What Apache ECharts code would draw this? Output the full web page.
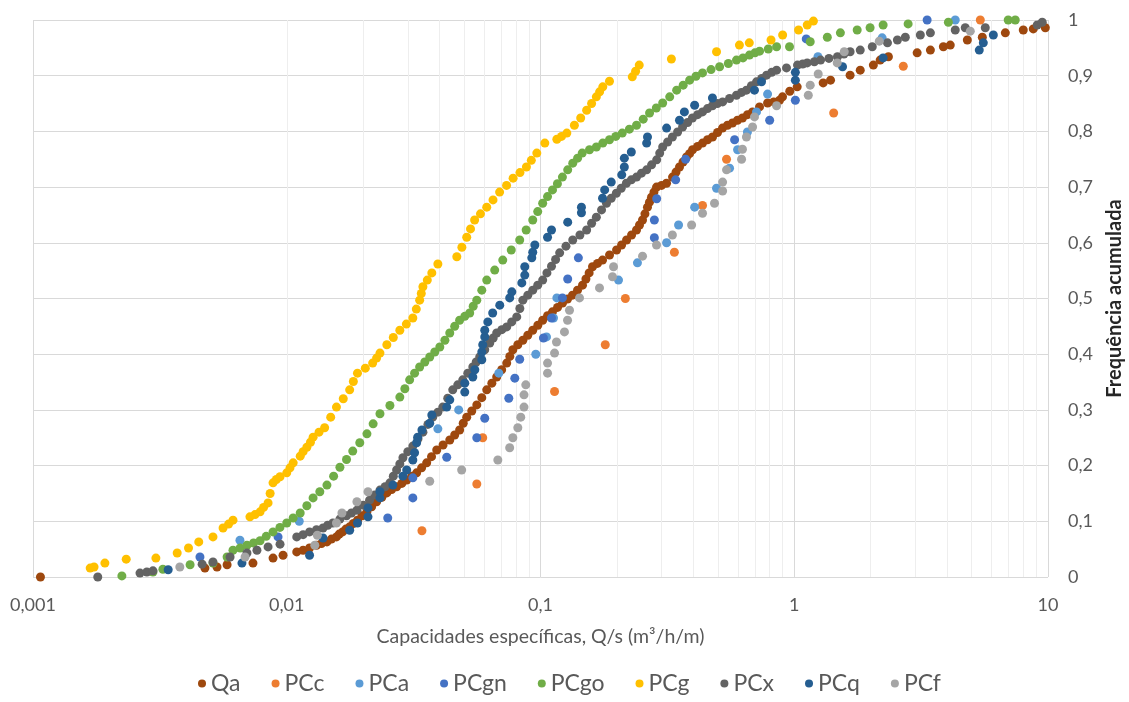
<!DOCTYPE html>
<html>
<head>
<meta charset="utf-8">
<script src="https://cdn.jsdelivr.net/npm/echarts@6/dist/echarts.min.js"></script>
<style>
html,body{margin:0;padding:0;background:#fff;}
#chart{width:1129px;height:702px;}
</style>
</head>
<body>
<div id="chart"></div>
<script>
const seriesNames = ['Qa','PCc','PCa','PCgn','PCgo','PCg','PCx','PCq','PCf'];
const seriesColors = ['#9E480E','#ED7D31','#5B9BD5','#4472C4','#70AD47','#FFC000','#636363','#255E91','#A5A5A5'];

const Qa = [[0.00107,0],[0.00476,0.016],[0.00531,0.018],[0.00582,0.022],[0.00736,0.025],[0.00883,0.034],[0.00967,0.039],[0.01095,0.045],
[0.0116,0.048],[0.0123,0.052],[0.0131,0.057],[0.0137,0.060],[0.0144,0.063],[0.0150,0.068],[0.0157,0.072],[0.0161,0.077],[0.0166,0.081],[0.0171,0.086],[0.0177,0.090],[0.0183,0.096],[0.0190,0.102],[0.0198,0.110],[0.0207,0.117],[0.0216,0.126],[0.0226,0.135],[0.0237,0.143],[0.0248,0.151],[0.0259,0.157],[0.0271,0.162],[0.0284,0.168],[0.0297,0.174],[0.0311,0.181],[0.0325,0.187],[0.0340,0.196],[0.0356,0.205],[0.0372,0.216],[0.0390,0.228],[0.0413,0.237],[0.0439,0.246],[0.0459,0.255],[0.0480,0.264],[0.0496,0.276],[0.0512,0.287],[0.0536,0.298],[0.0561,0.309],[0.0587,0.322],[0.0614,0.336],[0.0643,0.348],[0.0672,0.359],[0.0703,0.372],[0.0736,0.384],[0.0757,0.396],[0.0778,0.408],[0.0814,0.417],[0.0852,0.425],[0.0891,0.434],[0.0932,0.443],[0.0976,0.452],[0.102,0.461],[0.1066,0.469],[0.1115,0.476],[0.1167,0.484],[0.1221,0.492],[0.1278,0.499],[0.1337,0.506],[0.1399,0.515],[0.1464,0.524],[0.1510,0.535],[0.1555,0.546],[0.1603,0.557],[0.1677,0.563],[0.1756,0.569],[0.1871,0.578],[0.1994,0.587],[0.2087,0.596],[0.2184,0.605],[0.2285,0.614],[0.239,0.623],[0.2456,0.632],[0.2524,0.641],[0.258,0.652],[0.264,0.664],[0.2688,0.673],[0.2738,0.682],[0.280,0.691],[0.2866,0.700],[0.300,0.703],[0.3138,0.707],[0.3314,0.718],[0.342,0.727],[0.353,0.736],[0.3645,0.745],[0.3763,0.754],[0.3867,0.760],[0.3974,0.767],[0.4158,0.773],[0.4351,0.779],[0.4553,0.785],[0.4764,0.790],[0.4985,0.798],[0.5216,0.806],[0.5457,0.811],[0.571,0.815],[0.5975,0.820],[0.6253,0.824],[0.6543,0.830],[0.6847,0.835],[0.7297,0.844],[0.7851,0.851],[0.83,0.853],[0.875,0.856],[0.899,0.862],[0.96,0.872],[1.027,0.880],
[1.30,0.887],[1.39,0.892],[1.66,0.901],[1.82,0.910],[2.05,0.919],[2.18,0.928],[2.35,0.934],[3.05,0.941],[3.44,0.946],[3.87,0.952],[4.12,0.955],[4.81,0.964],[5.51,0.969],[6.79,0.977],[7.99,0.982],[8.75,0.984],[9.76,0.986]];

const PCc = [[0.0341,0.083],[0.0561,0.167],[0.0592,0.25],[0.1136,0.333],[0.180,0.417],[0.216,0.5],[0.337,0.583],[0.435,0.667],[0.541,0.75],[1.43,0.833],[2.69,0.917],[5.41,1.0]];

const PCa = [[0.00654,0.066],[0.0112,0.100],[0.0394,0.266],[0.0476,0.300],[0.0685,0.366],[0.0958,0.400],[0.1056,0.431],[0.1125,0.465],[0.116,0.501],[0.203,0.533],[0.241,0.564],[0.314,0.600],[0.350,0.632],[0.405,0.664],[0.494,0.698],[0.556,0.734],[0.598,0.767],[0.654,0.799],[0.710,0.835],[0.785,0.867],[1.24,0.934],[2.22,0.968],[4.31,1.0]];

const PCgn = [[0.00455,0.036],[0.00924,0.072],[0.0250,0.106],[0.0314,0.142],[0.0314,0.178],[0.0427,0.215],[0.0561,0.250],[0.0603,0.285],[0.0750,0.321],[0.0792,0.357],[0.0828,0.391],[0.1027,0.429],[0.1105,0.465],[0.122,0.501],[0.128,0.535],[0.141,0.573],[0.281,0.609],[0.281,0.641],[0.287,0.679],[0.341,0.713],[0.373,0.750],[0.582,0.785],[0.800,0.820],[1.01,0.856],[1.115,0.966],[3.34,1.0]];

const PCgo = [[0.00224,0.002],[0.00297,0.009],[0.00325,0.014],[0.00416,0.022],[0.00512,0.025],
[0.00582,0.036],[0.00614,0.048],[0.00655,0.052],[0.00697,0.057],[0.0074,0.061],[0.00785,0.065],[0.0083,0.073],[0.00883,0.081],[0.0094,0.089],[0.0100,0.097],[0.0106,0.106],[0.0113,0.115],[0.0120,0.128],[0.0127,0.142],[0.0135,0.153],[0.0144,0.165],[0.0153,0.181],[0.0162,0.197],[0.0172,0.211],[0.0182,0.226],[0.0194,0.241],[0.0207,0.257],[0.0219,0.275],[0.0233,0.293],[0.0255,0.308],[0.0279,0.323],[0.0292,0.338],[0.0305,0.354],[0.0319,0.366],[0.0334,0.377],[0.0350,0.386],[0.0366,0.395],[0.0383,0.404],[0.0401,0.413],[0.0420,0.425],[0.0439,0.438],[0.0459,0.450],[0.0480,0.461],[0.0503,0.468],[0.0526,0.474],[0.0543,0.486],[0.0561,0.497],[0.0587,0.515],[0.0614,0.533],[0.066,0.551],[0.0710,0.569],[0.0767,0.587],[0.0828,0.605],[0.0878,0.623],[0.0932,0.641],[0.0975,0.656],[0.102,0.671],[0.1066,0.683],[0.1115,0.695],[0.1166,0.706],[0.122,0.718],[0.128,0.731],[0.134,0.743],[0.140,0.752],[0.146,0.761],[0.156,0.767],[0.166,0.772],[0.176,0.779],[0.187,0.785],[0.198,0.791],[0.210,0.797],[0.224,0.804],[0.239,0.811],[0.254,0.822],[0.269,0.833],[0.286,0.842],[0.303,0.851],[0.323,0.862],[0.344,0.874],[0.365,0.883],[0.387,0.892],[0.41,0.899],[0.435,0.905],[0.47,0.911],[0.508,0.916],[0.55,0.922],[0.592,0.928],[0.628,0.932],[0.666,0.937],[0.70,0.941],[0.730,0.944],[0.79,0.948],[0.852,0.952],[0.958,0.952],
[1.156,0.961],[1.35,0.969],[1.52,0.977],[1.77,0.982],[1.99,0.986],[2.24,0.991],[2.81,0.993],[4.05,0.996],[6.97,1.0],[7.43,1.0]];

const PCg = [[0.00168,0.016],[0.00174,0.018],[0.00192,0.025],[0.00233,0.032],[0.00305,0.034],[0.0037,0.043],[0.0041,0.052],[0.0045,0.063],[0.00512,0.072],
[0.00561,0.088],[0.0059,0.095],[0.00614,0.102],[0.00716,0.108],[0.0075,0.112],[0.00785,0.117],[0.0081,0.125],[0.00844,0.133],[0.0086,0.150],[0.00883,0.169],[0.0091,0.175],[0.00941,0.180],[0.0100,0.187],[0.0103,0.196],[0.0106,0.205],[0.0113,0.217],[0.0116,0.225],[0.0120,0.233],[0.0124,0.242],[0.0127,0.251],[0.0134,0.260],[0.0141,0.268],[0.0149,0.287],[0.0157,0.305],[0.0167,0.320],[0.0177,0.336],[0.0183,0.351],[0.0190,0.366],[0.0204,0.375],[0.0218,0.384],[0.0226,0.393],[0.0233,0.402],[0.0248,0.417],[0.0263,0.430],[0.0279,0.443],[0.0296,0.454],[0.0314,0.465],[0.0324,0.481],[0.0334,0.497],[0.0339,0.509],[0.0344,0.521],[0.0358,0.533],[0.0373,0.546],[0.0394,0.562],
[0.0468,0.575],[0.0490,0.592],[0.0512,0.610],[0.053,0.625],[0.055,0.641],[0.058,0.652],[0.0614,0.664],[0.065,0.677],[0.069,0.691],[0.0735,0.703],[0.078,0.716],[0.083,0.726],[0.088,0.736],[0.092,0.748],[0.0967,0.761],[0.104,0.779],
[0.116,0.786],[0.121,0.791],[0.127,0.797],[0.136,0.811],[0.144,0.824],[0.152,0.838],[0.159,0.850],[0.166,0.862],[0.171,0.871],[0.176,0.880],[0.187,0.890],
[0.230,0.898],[0.237,0.908],[0.245,0.919],[0.328,0.930],[0.494,0.943],[0.608,0.955],[0.665,0.959],[0.81,0.964],[0.90,0.973],[1.04,0.982],[1.125,0.991],[1.19,0.998]];

const PCx = [[0.00180,0],[0.00264,0.007],[0.00281,0.009],[0.00297,0.011],[0.00464,0.023],[0.00512,0.027],[0.00598,0.036],[0.00697,0.043],[0.00763,0.048],[0.00844,0.054],[0.00941,0.059],
[0.01095,0.072],[0.0116,0.076],[0.0123,0.081],[0.0131,0.085],[0.0139,0.088],[0.0145,0.093],[0.0152,0.097],[0.0162,0.104],[0.0172,0.110],[0.0180,0.115],[0.0189,0.120],[0.0200,0.129],[0.0212,0.138],[0.0222,0.147],[0.0233,0.156],[0.0244,0.162],[0.0255,0.169],[0.0263,0.181],[0.0271,0.192],[0.0279,0.203],[0.0287,0.214],[0.0300,0.225],[0.0314,0.235],[0.0329,0.248],[0.0344,0.260],[0.0360,0.274],[0.0376,0.287],[0.0394,0.296],[0.0412,0.305],[0.0431,0.321],[0.0451,0.336],[0.0472,0.345],[0.0494,0.354],[0.0517,0.366],[0.0541,0.377],[0.0558,0.386],[0.0576,0.395],[0.0603,0.408],[0.0631,0.420],[0.0651,0.429],[0.0672,0.438],[0.0704,0.444],[0.0736,0.449],[0.0770,0.458],[0.0806,0.467],[0.0829,0.482],[0.0852,0.497],[0.0891,0.506],[0.0932,0.515],[0.0975,0.524],[0.102,0.533],[0.106,0.546],[0.1105,0.558],[0.1147,0.570],[0.119,0.582],[0.126,0.594],[0.134,0.605],[0.143,0.614],[0.152,0.623],[0.159,0.635],[0.166,0.646],[0.174,0.659],[0.182,0.671],[0.190,0.680],[0.199,0.689],[0.208,0.698],[0.218,0.707],[0.228,0.713],[0.239,0.718],[0.250,0.725],[0.262,0.731],[0.274,0.740],[0.287,0.749],[0.295,0.761],[0.303,0.772],[0.317,0.781],[0.331,0.790],[0.347,0.799],[0.363,0.808],[0.38,0.816],[0.397,0.824],[0.416,0.830],[0.435,0.835],[0.455,0.841],[0.476,0.846],[0.498,0.850],[0.522,0.853],[0.556,0.859],[0.592,0.865],[0.62,0.870],[0.648,0.874],[0.678,0.882],[0.710,0.889],[0.744,0.895],[0.778,0.901],[0.815,0.906],[0.852,0.910],[0.932,0.914],
[1.03,0.919],[1.08,0.921],[1.125,0.923],[1.20,0.925],[1.27,0.928],[1.37,0.931],[1.48,0.934],[1.57,0.939],[1.66,0.943],[1.82,0.946],[2.03,0.952],[2.33,0.959],[2.55,0.964],[2.74,0.969],[3.14,0.973],[3.44,0.977],[4.31,0.982],[4.72,0.986],[5.66,0.986],[9.07,0.991],[9.49,0.996]];

const PCq = [[0.00341,0.013],[0.00666,0.025],[0.0123,0.039],[0.0139,0.070],[0.0177,0.084],[0.0190,0.097],[0.0209,0.108],[0.0209,0.124],[0.0233,0.142],[0.0233,0.153],[0.0262,0.165],[0.0287,0.181],[0.0297,0.192],[0.0314,0.210],[0.0319,0.223],[0.0325,0.241],[0.0328,0.251],[0.0341,0.264],[0.0366,0.276],[0.0373,0.291],[0.0427,0.305],[0.0439,0.318],[0.0503,0.332],[0.0503,0.348],[0.0541,0.359],[0.0551,0.372],[0.0587,0.390],[0.0587,0.404],[0.0592,0.417],[0.0603,0.431],[0.0603,0.443],[0.0620,0.458],[0.0648,0.474],[0.0691,0.488],[0.0756,0.501],[0.0771,0.512],[0.0844,0.528],[0.0867,0.542],[0.0867,0.557],[0.0924,0.573],[0.0932,0.583],[0.0950,0.596],[0.1066,0.610],[0.1105,0.623],[0.128,0.637],[0.145,0.654],[0.145,0.664],[0.1756,0.680],[0.179,0.695],[0.190,0.709],[0.209,0.722],[0.214,0.736],[0.214,0.752],[0.228,0.763],[0.262,0.779],[0.264,0.790],[0.314,0.806],[0.353,0.820],[0.369,0.835],[0.405,0.847],[0.476,0.860],[0.697,0.874],[0.743,0.889],[1.01,0.892],[1.01,0.906],[1.55,0.916],[2.24,0.932],[5.36,0.946],[5.56,0.959],[6.09,0.973]];

const PCf = [[0.00379,0.018],[0.00685,0.036],[0.0129,0.057],[0.0132,0.075],[0.0157,0.097],[0.0165,0.115],[0.0189,0.135],[0.0209,0.153],[0.0366,0.172],[0.0489,0.192],[0.0679,0.210],[0.0756,0.232],[0.0778,0.250],[0.0814,0.268],[0.0836,0.287],[0.0861,0.305],[0.0861,0.327],[0.0875,0.345],[0.1066,0.366],[0.1066,0.384],[0.1136,0.402],[0.1156,0.422],[0.1243,0.440],[0.1278,0.461],[0.1301,0.479],[0.1425,0.501],[0.1708,0.519],[0.1922,0.539],[0.1940,0.557],[0.2524,0.576],[0.2866,0.596],[0.331,0.614],[0.394,0.632],[0.435,0.653],[0.485,0.671],[0.522,0.693],[0.522,0.709],[0.541,0.731],[0.620,0.750],[0.625,0.768],[0.648,0.790],[0.685,0.808],[0.697,0.826],[0.852,0.846],[1.136,0.865],[1.156,0.883],[1.243,0.903],[1.477,0.923],[1.574,0.943],[2.163,0.962],[4.94,0.980]];

const seriesData = [Qa, PCc, PCa, PCgn, PCgo, PCg, PCx, PCq, PCf];

const xAxisTitle = 'Capacidades específicas, Q/s (m³/h/m)';
const yAxisTitle = 'Frequência acumulada';

// minor (2..9) log gridline positions
const minorGrid = [];
[0.001, 0.01, 0.1, 1].forEach(function (d) {
  for (let k = 2; k <= 9; k++) minorGrid.push(+(d * k).toPrecision(3));
});

function commaFmt(v) {
  return String(+(+v).toPrecision(6)).replace('.', ',');
}

const FONT = 'Lato';
const series = seriesNames.map(function (n, i) {
  return {
    name: n,
    type: 'scatter',
    data: seriesData[i],
    symbol: 'circle',
    symbolSize: 9,
    itemStyle: { color: seriesColors[i], opacity: 1 },
    z: 3 + i
  };
});
series.unshift({
  name: 'minorgrid',
  type: 'scatter',
  data: [],
  silent: true,
  z: 1,
  markLine: {
    silent: true,
    symbol: ['none', 'none'],
    label: { show: false },
    z: 1,
    animation: false,
    lineStyle: { color: '#EEEEEE', width: 1, type: 'solid' },
    emphasis: { disabled: true },
    data: minorGrid.map(function (v) { return { xAxis: v }; })
  }
});

const chart = echarts.init(document.getElementById('chart'), null, { renderer: 'canvas' });
chart.setOption({
  animation: false,
  backgroundColor: '#ffffff',
  textStyle: { fontFamily: FONT },
  grid: { left: 33, right: 81, top: 20, bottom: 125, containLabel: false, outerBoundsMode: 'none' },
  legend: {
    data: seriesNames,
    left: 193,
    top: 667,
    icon: 'circle',
    itemWidth: 8,
    itemHeight: 8,
    itemGap: 31,
    textStyle: { fontFamily: FONT, fontSize: 23, color: '#595959' }
  },
  xAxis: {
    type: 'log',
    logBase: 10,
    min: 0.001,
    max: 10,
    name: xAxisTitle,
    nameLocation: 'middle',
    nameGap: 50,
    nameTextStyle: { fontFamily: FONT, fontSize: 19.5, color: '#595959' },
    axisLine: { show: false },
    axisTick: { show: false },
    axisLabel: { fontFamily: FONT, fontSize: 18, color: '#595959', margin: 19, formatter: commaFmt },
    splitLine: { show: true, lineStyle: { color: '#D9D9D9', width: 1 } }
  },
  yAxis: {
    type: 'value',
    position: 'right',
    min: 0,
    max: 1,
    interval: 0.1,
    name: yAxisTitle,
    nameLocation: 'middle',
    nameRotate: 90,
    nameGap: 57,
    nameTextStyle: { fontFamily: FONT, fontSize: 20, fontWeight: 'bold', color: '#262626' },
    axisLine: { show: false },
    axisTick: { show: false },
    axisLabel: { fontFamily: FONT, fontSize: 18, color: '#595959', margin: 20, formatter: commaFmt },
    splitLine: { show: true, lineStyle: { color: '#D9D9D9', width: 1 } }
  },
  series: series
});
</script>
</body>
</html>
